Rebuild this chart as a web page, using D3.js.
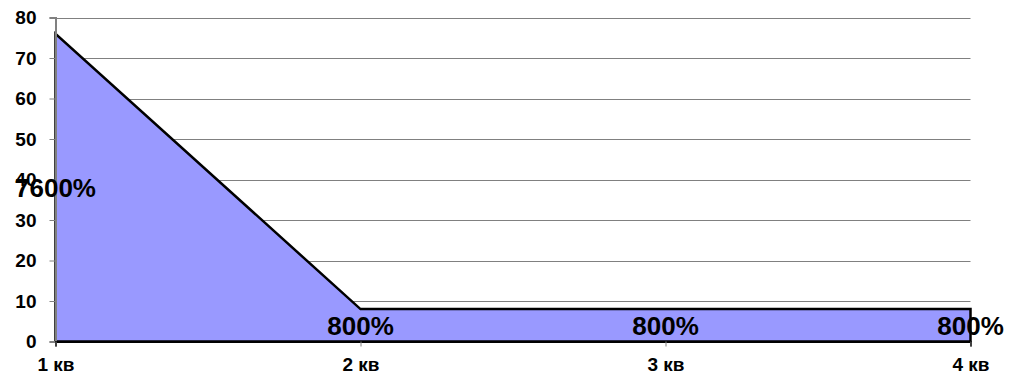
<!DOCTYPE html>
<html>
<head>
<meta charset="utf-8">
<script src="https://cdn.jsdelivr.net/npm/d3@7"></script>
<style>
  html, body { margin: 0; padding: 0; background: #fff; }
  svg text { font-family: Arial, "Liberation Sans", sans-serif; font-weight: bold; fill: #000; }
</style>
</head>
<body>
<svg id="chart" width="1011" height="376"></svg>
<script>
// Quarterly series
const categories = ["1 кв", "2 кв", "3 кв", "4 кв"];
const values = [76, 8, 8, 8];
const valueLabels = ["7600%", "800%", "800%", "800%"];
const yTicks = [0, 10, 20, 30, 40, 50, 60, 70, 80];

const svg = d3.select("#chart");
const plotLeft = 55.5, plotRight = 970.5, plotTop = 17.5, plotBottom = 341.5;

const x = d3.scalePoint().domain(categories).range([plotLeft, plotRight]);
const y = d3.scaleLinear().domain([0, 80]).range([plotBottom, plotTop]);

// horizontal gridlines
svg.append("g").selectAll("line")
  .data(yTicks.filter(d => d > 0))
  .join("line")
  .attr("x1", plotLeft).attr("x2", plotRight)
  .attr("y1", d => Math.round(y(d)) + 0.5).attr("y2", d => Math.round(y(d)) + 0.5)
  .attr("stroke", "#808080").attr("stroke-width", 1);

// filled area with outline
const pts = categories.map((c, i) => [x(c), y(values[i])]);
const outline = [[x(categories[0]), y(0)], ...pts, [x(categories[categories.length - 1]), y(0)]];
svg.append("path")
  .attr("d", d3.line()(outline) + "Z")
  .attr("fill", "#9999ff")
  .attr("stroke", "#000").attr("stroke-width", 2.5)
  .attr("stroke-linejoin", "miter");

// y axis
const yAxis = svg.append("g")
  .attr("transform", `translate(${plotLeft},0)`)
  .call(d3.axisLeft(y).tickValues(yTicks).tickSize(6).tickPadding(13));
yAxis.select(".domain").attr("stroke", "#808080").attr("stroke-width", 2);
yAxis.selectAll(".tick line").attr("stroke", "#808080");
yAxis.selectAll(".tick text").style("font-size", "19px").attr("font-family", null).attr("fill", "#000");

// x axis
const xAxis = svg.append("g")
  .attr("transform", `translate(0,${plotBottom})`)
  .call(d3.axisBottom(x).tickSize(5).tickPadding(11));
xAxis.select(".domain").attr("stroke", "#000").attr("stroke-width", 2);
xAxis.selectAll(".tick line").attr("stroke", "#808080");
xAxis.selectAll(".tick text").style("font-size", "19px").attr("font-family", null).attr("fill", "#000");

// value labels centred at half height
svg.append("g").selectAll("text")
  .data(categories)
  .join("text")
  .attr("x", c => x(c))
  .attr("y", (c, i) => y(values[i] / 2))
  .attr("dy", "0.36em")
  .attr("text-anchor", "middle")
  .style("font-size", "26px")
  .text((c, i) => valueLabels[i]);
</script>
</body>
</html>
